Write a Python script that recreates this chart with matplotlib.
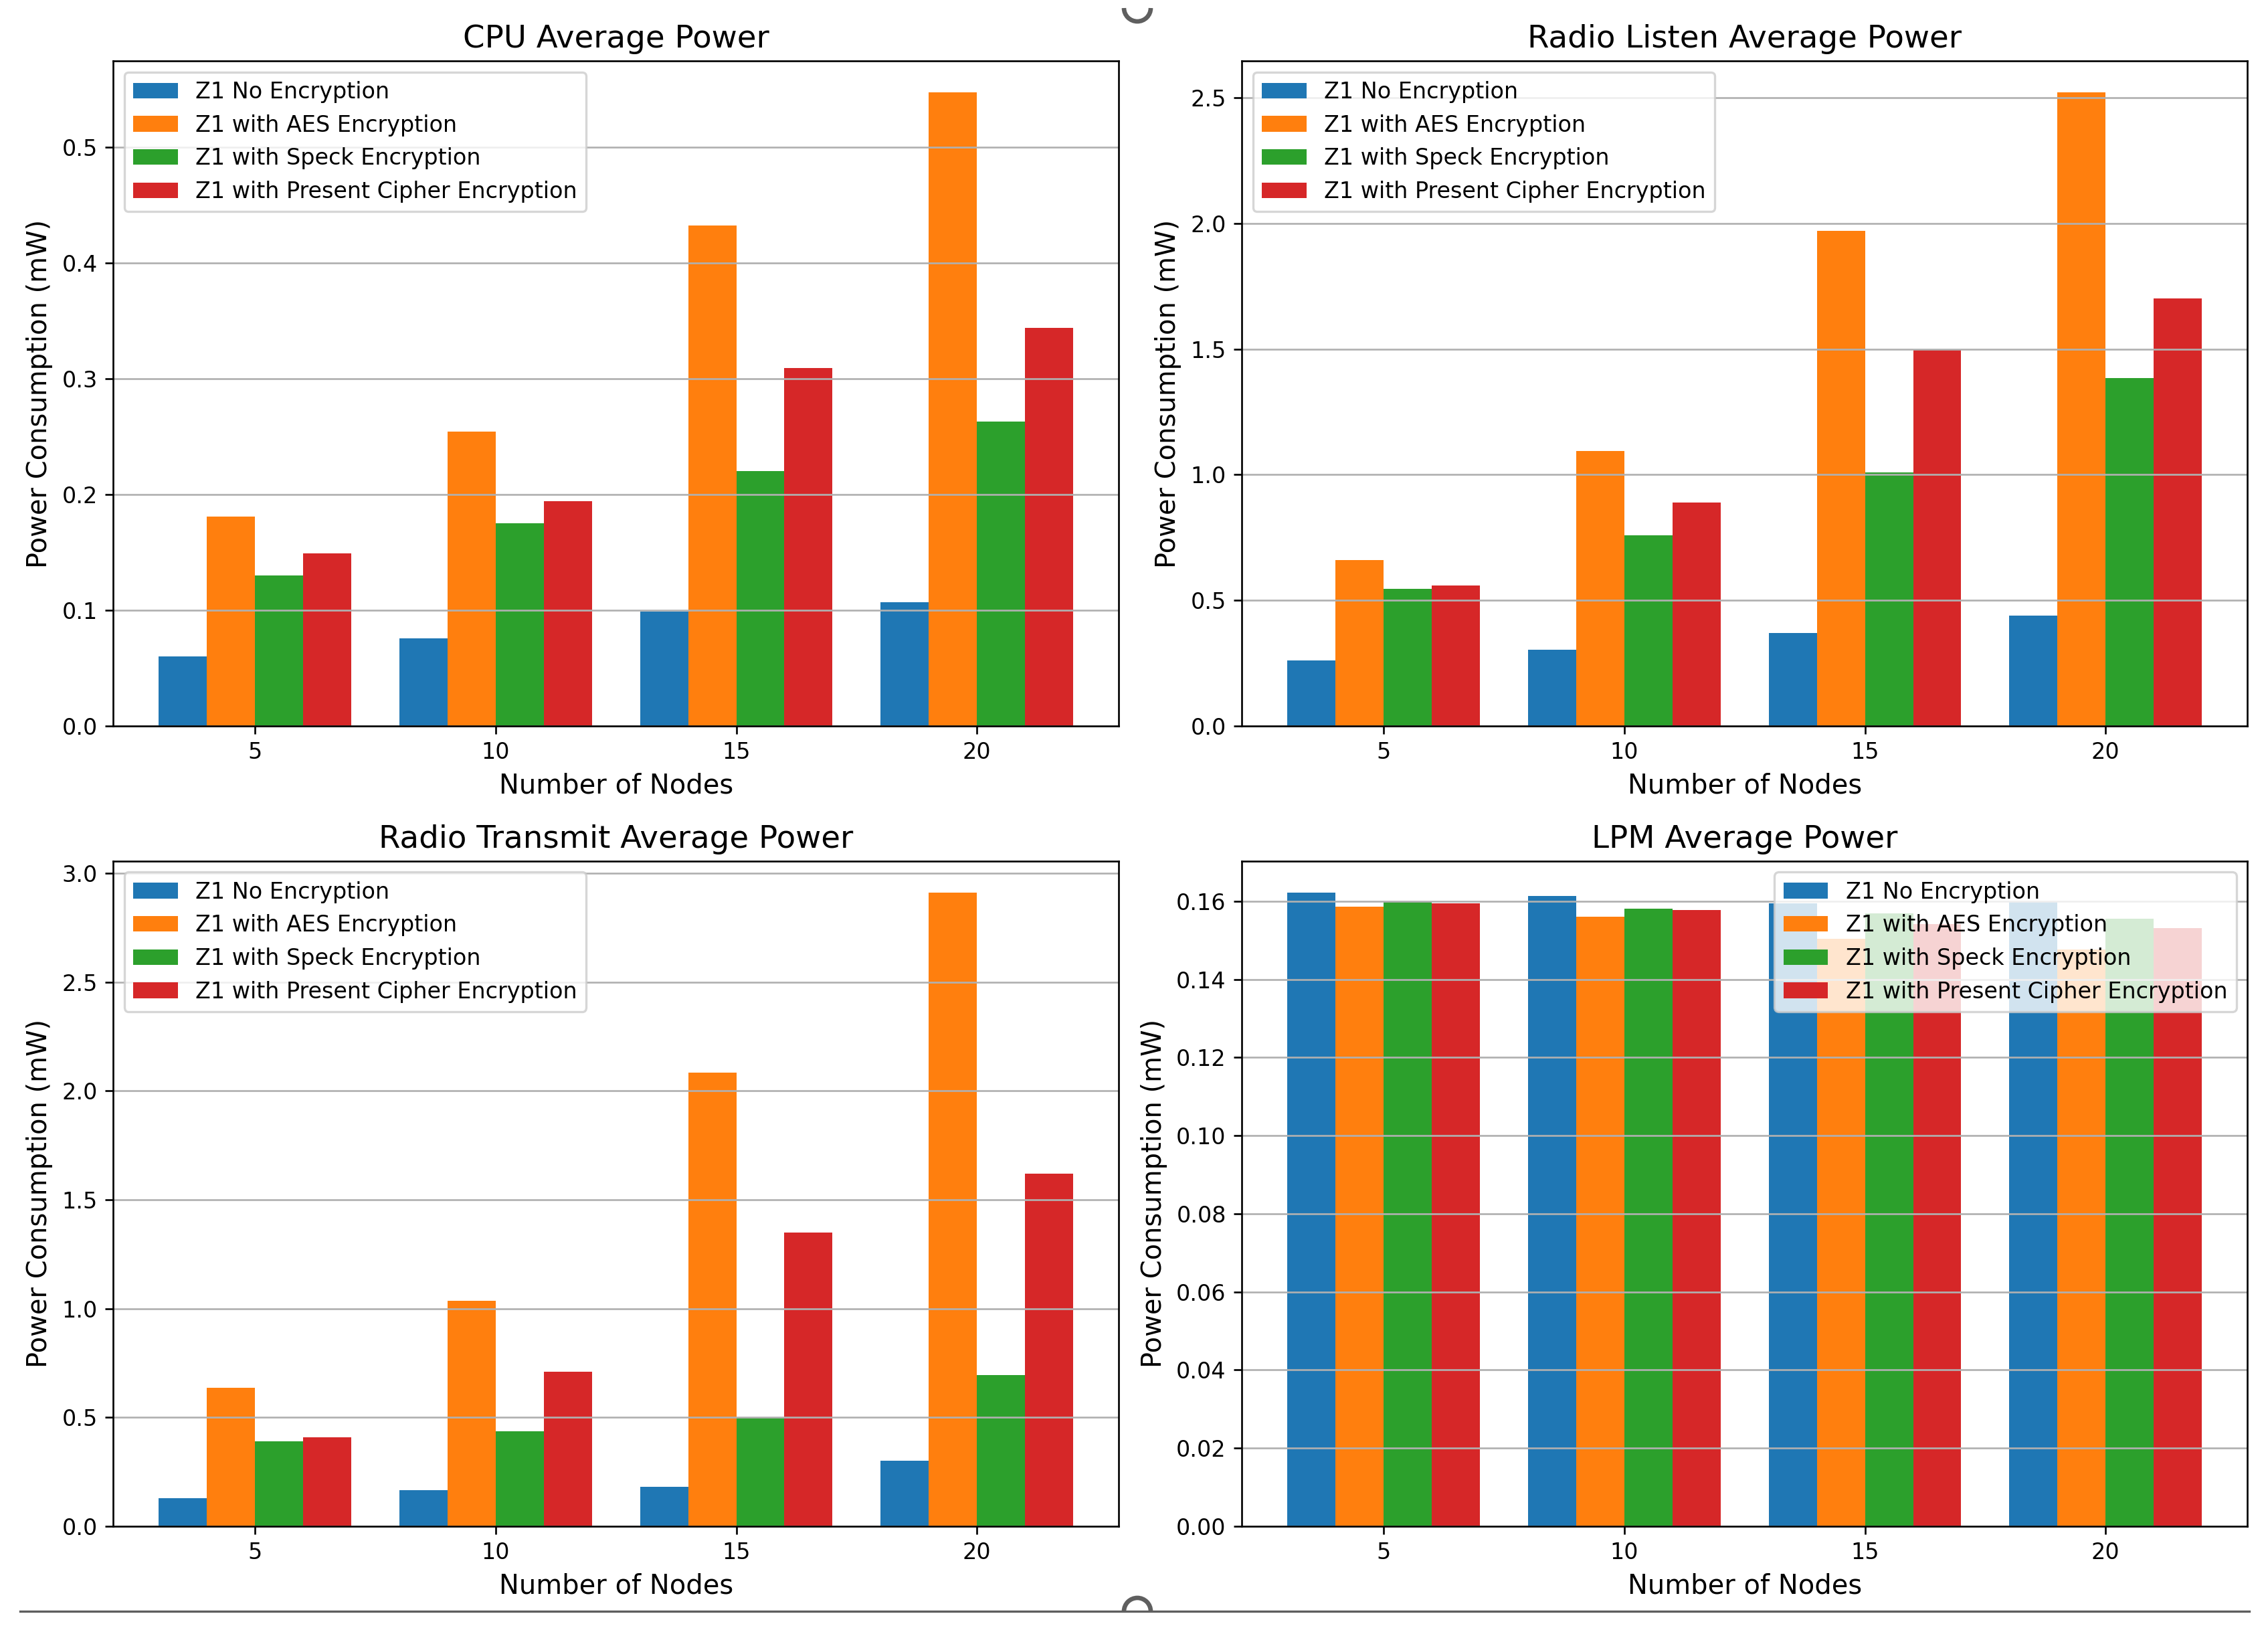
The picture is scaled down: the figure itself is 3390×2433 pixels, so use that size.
import matplotlib.pyplot as plt
import numpy as np
from matplotlib.lines import Line2D
from matplotlib.patches import Arc

nodes = [5, 10, 15, 20]
labels = ['Z1 No Encryption', 'Z1 with AES Encryption',
          'Z1 with Speck Encryption', 'Z1 with Present Cipher Encryption']

# CPU average power (mW)
cpu_none = [0.060, 0.076, 0.099, 0.107]
cpu_aes = [0.181, 0.254, 0.432, 0.547]
cpu_speck = [0.130, 0.175, 0.220, 0.263]
cpu_present = [0.149, 0.194, 0.309, 0.344]

# Radio listen average power (mW)
listen_none = [0.26, 0.305, 0.37, 0.44]
listen_aes = [0.66, 1.095, 1.97, 2.52]
listen_speck = [0.545, 0.76, 1.01, 1.385]
listen_present = [0.56, 0.89, 1.50, 1.70]

# Radio transmit average power (mW)
tx_none = [0.13, 0.165, 0.18, 0.30]
tx_aes = [0.635, 1.035, 2.085, 2.91]
tx_speck = [0.39, 0.435, 0.50, 0.695]
tx_present = [0.41, 0.71, 1.35, 1.62]

# LPM average power (mW)
lpm_none = [0.1622, 0.1614, 0.1595, 0.1600]
lpm_aes = [0.1587, 0.1560, 0.1504, 0.1476]
lpm_speck = [0.1599, 0.1582, 0.1570, 0.1556]
lpm_present = [0.1595, 0.1578, 0.1541, 0.1532]

colors = ['#1f77b4', '#ff7f0e', '#2ca02c', '#d62728']
width = 1.0
x = np.array(nodes)

fig = plt.figure(figsize=(3390 / 240, 2433 / 240), dpi=240)

panels = [
    ('CPU Average Power', [cpu_none, cpu_aes, cpu_speck, cpu_present], 'upper left',
     [0.0499, 0.554, 0.4434, 0.4086]),
    ('Radio Listen Average Power', [listen_none, listen_aes, listen_speck, listen_present], 'upper left',
     [0.5475, 0.554, 0.4435, 0.4086]),
    ('Radio Transmit Average Power', [tx_none, tx_aes, tx_speck, tx_present], 'upper left',
     [0.0499, 0.0625, 0.4434, 0.4086]),
    ('LPM Average Power', [lpm_none, lpm_aes, lpm_speck, lpm_present], 'upper right',
     [0.5475, 0.0625, 0.4435, 0.4086]),
]

for title, series, loc, rect in panels:
    ax = fig.add_axes(rect)
    for i, vals in enumerate(series):
        ax.bar(x + (i - 1.5) * width, vals, width, label=labels[i], color=colors[i])
    ax.set_xticks(nodes)
    ax.set_xlabel('Number of Nodes', fontsize=12)
    ax.set_ylabel('Power Consumption (mW)', fontsize=12)
    ax.set_title(title, fontsize=14)
    ax.grid(axis='y')
    ax.legend(loc=loc, fontsize=10)

# frame of the screenshot selection
gray = '#5f5f5f'
fig.add_artist(Line2D([30 / 3390, 3362 / 3390], [1 - 2408 / 2433] * 2,
                      color=gray, lw=1.0, transform=fig.transFigure))
for cx, cy, t1, t2 in [(1700, 2408, 0, 180), (1700, 12, 180, 360)]:
    fig.add_artist(Arc((cx / 3390, 1 - cy / 2433), 40 / 3390, 40 / 2433,
                       theta1=t1, theta2=t2, color=gray, lw=2.0,
                       transform=fig.transFigure))

plt.savefig('out.png', dpi=240)
